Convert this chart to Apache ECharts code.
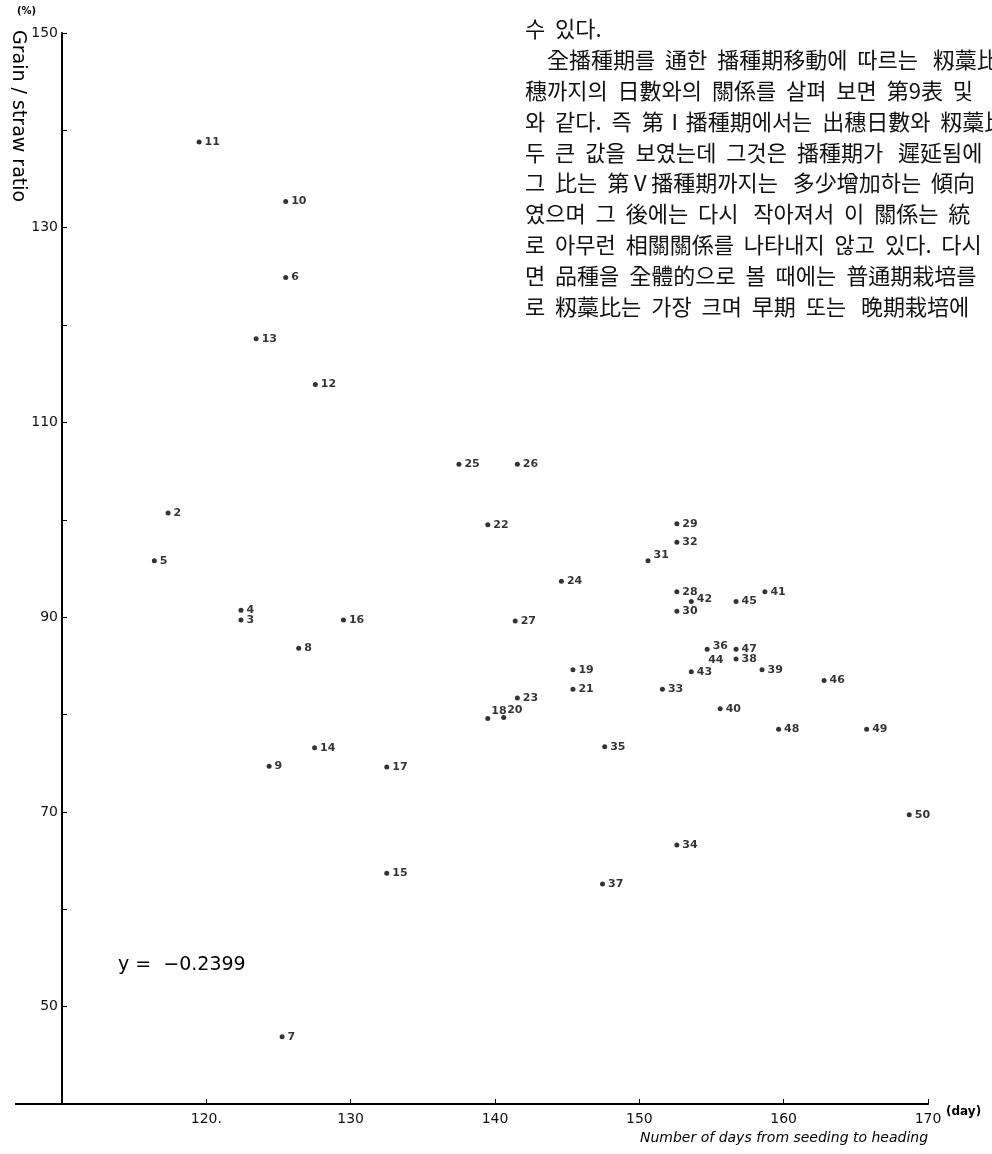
<!DOCTYPE html>
<html>
<head>
<meta charset="utf-8">
<script src="https://cdn.jsdelivr.net/npm/echarts@6/dist/echarts.min.js"></script>
<style>
html,body{margin:0;padding:0;background:#fff;}
#chart{width:992px;height:1154px;}
</style>
</head>
<body>
<div id="chart"></div>
<script>
// ---- data ----
const pointIds = [2,3,4,5,6,7,8,9,10,11,12,13,14,15,16,17,18,19,20,21,22,23,24,25,26,27,28,29,30,31,32,33,34,35,36,37,38,39,40,41,42,43,44,45,46,47,48,49,50];
const daysToHeading = [117.35,122.4,122.4,116.4,125.5,125.25,126.4,124.35,125.5,119.5,127.55,123.45,127.5,132.5,129.5,132.5,139.5,145.4,140.6,145.4,139.5,141.55,144.6,137.5,141.55,141.4,152.6,152.6,152.6,150.6,152.6,151.6,152.6,147.6,154.7,147.45,156.7,158.5,155.6,158.7,153.6,153.6,154.7,156.7,162.8,156.7,159.65,165.75,168.7];
const grainStrawRatio = [100.7,89.7,90.7,95.8,124.9,46.9,86.8,74.7,132.7,138.8,113.9,118.6,76.6,63.7,89.7,74.6,79.6,84.6,79.7,82.6,99.5,81.7,93.7,105.7,105.7,89.6,92.6,99.6,90.6,95.8,97.7,82.6,66.6,76.7,86.7,62.6,85.7,84.6,80.6,92.6,91.6,84.4,86.3,91.6,83.5,86.7,78.5,78.5,69.7];
const xTickLabels = {120:'120.',130:'130',140:'140',150:'150',160:'160',170:'170'};
const yTickLabels = {50:'50',70:'70',90:'90',110:'110',130:'130',150:'150'};
const correlationText = 'y =  \u22120.2399';
const textLines = [
  '수  있다.',
  '\u3000全播種期를  通한  播種期移動에  따르는   籾藁比',
  '穗까지의  日數와의  關係를  살펴  보면  第9表  및',
  '와  같다.  즉  第Ⅰ播種期에서는  出穗日數와  籾藁比',
  '두  큰  값을  보였는데  그것은  播種期가   遲延됨에',
  '그  比는  第Ⅴ播種期까지는   多少增加하는  傾向',
  '였으며  그  後에는  다시   작아져서  이  關係는  統',
  '로  아무런  相關關係를  나타내지  않고  있다.  다시',
  '면  品種을  全體的으로  볼  때에는  普通期栽培를',
  '로  籾藁比는  가장  크며  早期  또는   晩期栽培에'
];

// ---- label placement tweaks (style only) ----
const labelOffsets = {31:[0,-6],18:[-2,-7],20:[-2,-7],36:[0,-3],44:[-2,7],42:[0,-2]};

const data = pointIds.map((id,i)=>{
  const d = {value:[daysToHeading[i], grainStrawRatio[i], id]};
  if (labelOffsets[id]) d.label = {offset: labelOffsets[id]};
  if (id === 44) d.symbolSize = 0;
  return d;
});

const chart = echarts.init(document.getElementById('chart'), null, {renderer:'canvas'});
const textGraphics = textLines.map((t,i)=>({
  type:'text', left: 525, top: 18 + i*30.8,
  style:{text:t, font:'22px "Noto Sans CJK KR"', fill:'#111'}
}));

chart.setOption({
  backgroundColor:'#fff',
  animation:false,
  grid:{left:62,right:64,top:33,bottom:50},
  xAxis:{
    type:'value', min:110, max:170, interval:10,
    axisLine:{show:true, lineStyle:{color:'#000', width:2}},
    axisTick:{show:true, inside:true, length:5, lineStyle:{color:'#000', width:1}},
    splitLine:{show:false},
    axisLabel:{color:'#111', fontSize:14, fontFamily:'DejaVu Sans', margin:8,
      formatter:v=>xTickLabels[v]||''}
  },
  yAxis:{
    type:'value', min:40, max:150, interval:10,
    axisLine:{show:true, lineStyle:{color:'#000', width:2}},
    axisTick:{show:true, inside:true, length:5, lineStyle:{color:'#000', width:1}},
    splitLine:{show:false},
    axisLabel:{color:'#111', fontSize:14, fontFamily:'DejaVu Sans', margin:4,
      formatter:v=>yTickLabels[v]||''}
  },
  series:[{
    type:'scatter',
    data:data,
    symbol:'circle', symbolSize:5,
    itemStyle:{color:'#000'},
    label:{show:true, position:'right', distance:3, color:'#000', fontSize:11,
      fontWeight:'bold', fontFamily:'DejaVu Sans', formatter:p=>String(p.value[2])}
  }],
  graphic:[
    {type:'line', shape:{x1:15,y1:1104,x2:62,y2:1104}, style:{stroke:'#000', lineWidth:2}},
    {type:'text', left:17, top:6, style:{text:'(%)', font:'bold 10px "DejaVu Sans"', fill:'#000'}},
    {type:'text', x:27, y:30, rotation:-Math.PI/2,
      style:{text:'Grain / straw ratio', font:'19px "DejaVu Sans"', fill:'#000'}},
    {type:'text', left:118, top:956, style:{text:correlationText, font:'19px "DejaVu Sans"', fill:'#000'}},
    {type:'text', left:946, top:1106, style:{text:'(day)', font:'bold 12px "DejaVu Sans"', fill:'#000'}},
    {type:'text', left:640, top:1131, style:{text:'Number of days from seeding to heading', font:'italic 14px "DejaVu Sans"', fill:'#000'}}
  ].concat(textGraphics)
});
</script>
</body>
</html>
